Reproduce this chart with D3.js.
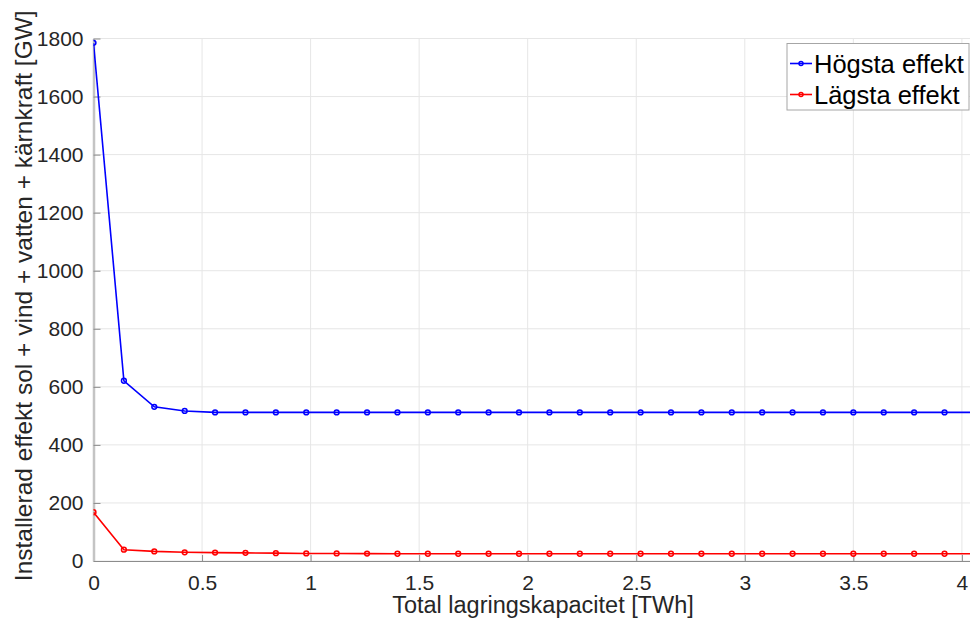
<!DOCTYPE html>
<html>
<head>
<meta charset="utf-8">
<script src="https://cdn.jsdelivr.net/npm/d3@7"></script>
<style>
  body { margin: 0; background: #fff; }
  svg { display: block; font-family: "Liberation Sans", Arial, sans-serif; }
</style>
</head>
<body>
<div id="plot"></div>
<script>
    // Storage capacity [TWh]
    const capacity = [0, 0.14, 0.28, 0.42, 0.56, 0.70, 0.84, 0.98, 1.12, 1.26, 1.40, 1.54, 1.68, 1.82, 1.96,
        2.10, 2.24, 2.38, 2.52, 2.66, 2.80, 2.94, 3.08, 3.22, 3.36, 3.50, 3.64, 3.78, 3.92, 4.06];
    // Highest installed power [GW]
    const highest = [1785, 621, 531, 517, 512, 512, 512, 512, 512, 512, 512, 512, 512, 512, 512,
        512, 512, 512, 512, 512, 512, 512, 512, 512, 512, 512, 512, 512, 512, 512];
    // Lowest installed power [GW]
    const lowest = [168, 39, 33, 30, 29, 28, 27, 26, 26, 25.5, 25, 25, 25, 25, 25,
        25, 25, 25, 25, 25, 25, 25, 25, 25, 25, 25, 25, 25, 25, 25];
    const xTicks = [0, 0.5, 1, 1.5, 2, 2.5, 3, 3.5, 4];
    const yTicks = [0, 200, 400, 600, 800, 1000, 1200, 1400, 1600, 1800];
    const seriesNames = ['Högsta effekt', 'Lägsta effekt'];
    const seriesColors = ['#0000ff', '#ff0000'];

    const svgWidth = 970;
    const svgHeight = 625;
    const margin = { top: 38.5, bottom: 64, left: 93.5 };

    const svg = d3.select('#plot')
        .append('svg')
        .attr('width', svgWidth)
        .attr('height', svgHeight);

    const xScale = d3.scaleLinear()
        .domain([0, 4.06])
        .range([margin.left, margin.left + 4.06 * 217.1]);

    const yScale = d3.scaleLinear()
        .domain([0, 1800])
        .range([svgHeight - margin.bottom, margin.top]);

    const plotRight = xScale.range()[1];
    const plotBottom = yScale(0);

    svg.append('clipPath').attr('id', 'clip')
        .append('rect')
        .attr('x', margin.left).attr('y', margin.top - 6)
        .attr('width', plotRight - margin.left).attr('height', plotBottom - margin.top + 12);

    // grid
    svg.append('g')
        .selectAll('line.vg')
        .data(xTicks)
        .enter().append('line')
        .attr('x1', d => xScale(d)).attr('x2', d => xScale(d))
        .attr('y1', margin.top).attr('y2', plotBottom)
        .attr('stroke', '#e6e6e6').attr('stroke-width', 1);
    svg.append('g')
        .selectAll('line.hg')
        .data(yTicks)
        .enter().append('line')
        .attr('x1', margin.left).attr('x2', plotRight)
        .attr('y1', d => yScale(d)).attr('y2', d => yScale(d))
        .attr('stroke', '#e6e6e6').attr('stroke-width', 1);

    // x axis
    const xAxis = svg.append('g')
        .attr('class', 'x-axis')
        .attr('transform', `translate(0, ${plotBottom})`)
        .call(d3.axisBottom(xScale).tickValues(xTicks).tickSize(-6).tickSizeOuter(0).tickPadding(14).tickFormat(d3.format('')));
    xAxis.select('.domain').attr('stroke', '#8c8c8c');
    xAxis.selectAll('.tick line').attr('stroke', '#8c8c8c');
    xAxis.selectAll('text').attr('font-size', 21).attr('fill', '#262626');

    // y axis
    const yAxis = svg.append('g')
        .attr('class', 'y-axis')
        .attr('transform', `translate(${margin.left}, 0)`)
        .call(d3.axisLeft(yScale).tickValues(yTicks).tickSize(-7).tickSizeOuter(0).tickPadding(10).tickFormat(d3.format('d')));
    yAxis.select('.domain').attr('stroke', '#c4c4c4').attr('stroke-width', 2.5);
    yAxis.selectAll('.tick line').attr('stroke', '#8c8c8c');
    yAxis.selectAll('text').attr('font-size', 21).attr('fill', '#262626');

    // axis labels
    svg.append('text')
        .attr('x', 543).attr('y', 613)
        .attr('text-anchor', 'middle')
        .attr('font-size', 23.5).attr('fill', '#262626')
        .text('Total lagringskapacitet [TWh]');

    svg.append('text')
        .attr('transform', `translate(32, ${(margin.top + plotBottom) / 2 - 4}) rotate(-90)`)
        .attr('text-anchor', 'middle')
        .attr('font-size', 24.5).attr('fill', '#262626')
        .text('Installerad effekt sol + vind + vatten + kärnkraft [GW]');

    // series
    const series = [highest, lowest];
    const line = d3.line()
        .x((d, i) => xScale(capacity[i]))
        .y(d => yScale(d));

    const plotArea = svg.append('g').attr('clip-path', 'url(#clip)');
    series.forEach((values, s) => {
        plotArea.append('path')
            .datum(values)
            .attr('d', line)
            .attr('fill', 'none')
            .attr('stroke', seriesColors[s])
            .attr('stroke-width', 1.6);
        plotArea.selectAll('.m' + s)
            .data(values)
            .enter().append('circle')
            .attr('class', 'm' + s)
            .attr('cx', (d, i) => xScale(capacity[i]))
            .attr('cy', d => yScale(d))
            .attr('r', 2.4)
            .attr('fill', 'none')
            .attr('stroke', seriesColors[s])
            .attr('stroke-width', 1.5);
    });

    // legend
    const legend = svg.append('g').attr('transform', 'translate(787, 43.5)');
    legend.append('rect')
        .attr('width', 182).attr('height', 66.5)
        .attr('fill', '#fff').attr('stroke', '#a6a6a6').attr('stroke-width', 1);
    seriesNames.forEach((name, i) => {
        const y = 20 + i * 31;
        legend.append('line')
            .attr('x1', 3).attr('x2', 25).attr('y1', y).attr('y2', y)
            .attr('stroke', seriesColors[i]).attr('stroke-width', 1.6);
        legend.append('circle')
            .attr('cx', 14).attr('cy', y).attr('r', 2)
            .attr('fill', 'none').attr('stroke', seriesColors[i]).attr('stroke-width', 1.5);
        legend.append('text')
            .attr('x', 27).attr('y', y + 9)
            .attr('font-size', 25.5).attr('fill', '#000')
            .text(name);
    });
</script>
</body>
</html>
